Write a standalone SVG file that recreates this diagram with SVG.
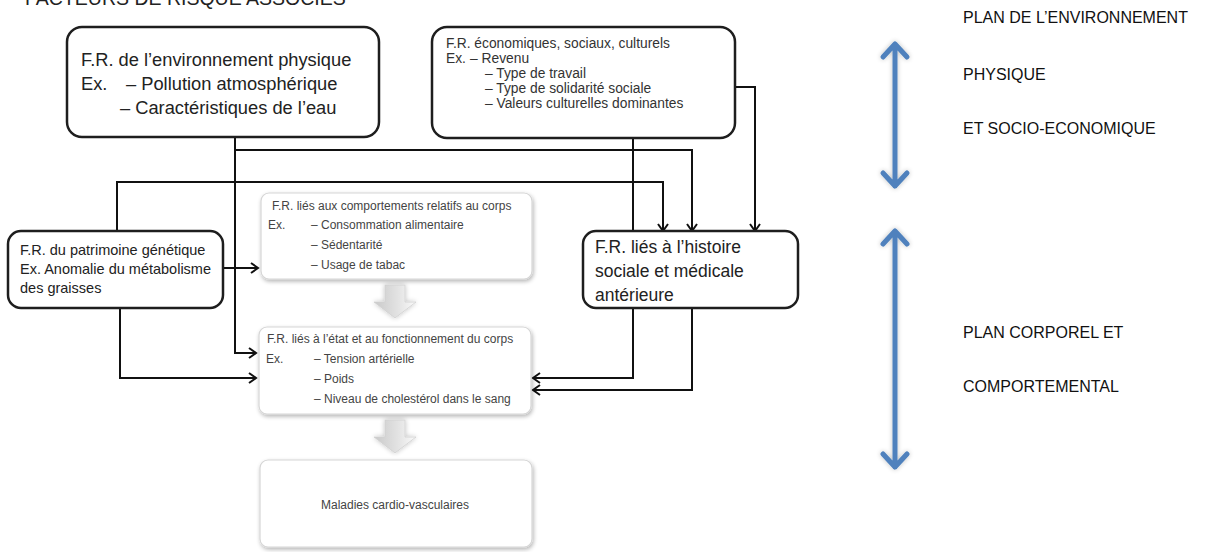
<svg xmlns="http://www.w3.org/2000/svg" width="1224" height="552" viewBox="0 0 1224 552">
<defs>
<style>
.t{font-family:"Liberation Sans",Arial,sans-serif;fill:#222}
.big{font-size:18.3px}
.hist{font-size:17.5px}
.mid{font-size:14.5px}
.eco{font-size:13.8px;fill:#333}
.sm{font-size:12px;fill:#444}
.lab{font-size:16px;fill:#111}
.box{fill:#fff;stroke:#1e1e1e;stroke-width:2.5}
.soft{fill:#fff;stroke:#d6d6d6;stroke-width:1.2}
.con{fill:none;stroke:#111;stroke-width:2}
.blue{fill:none;stroke:#4f81bd;stroke-width:5;stroke-linecap:round;stroke-linejoin:round}
</style>
<marker id="ah" markerWidth="12" markerHeight="12" refX="9" refY="6" orient="auto" markerUnits="userSpaceOnUse">
<path d="M2,1 L9,6 L2,11" fill="none" stroke="#111" stroke-width="2"/>
</marker>
<filter id="sh" x="-10%" y="-10%" width="125%" height="130%">
<feGaussianBlur in="SourceAlpha" stdDeviation="2"/>
<feOffset dx="1" dy="2" result="b"/>
<feComponentTransfer><feFuncA type="linear" slope="0.3"/></feComponentTransfer>
<feMerge><feMergeNode/><feMergeNode in="SourceGraphic"/></feMerge>
</filter>
<filter id="bsh" x="-50%" y="-10%" width="200%" height="120%">
<feGaussianBlur in="SourceAlpha" stdDeviation="2.5"/>
<feComponentTransfer><feFuncA type="linear" slope="0.25"/></feComponentTransfer>
<feMerge><feMergeNode/><feMergeNode in="SourceGraphic"/></feMerge>
</filter>
<linearGradient id="gg" x1="0" y1="0" x2="1" y2="0">
<stop offset="0" stop-color="#c9c9c9"/>
<stop offset="0.6" stop-color="#e4e4e4"/>
<stop offset="1" stop-color="#fafafa"/>
</linearGradient>
</defs>
<rect width="1224" height="552" fill="#fff"/>

<text class="t" x="25" y="5" style="font-size:19.5px;fill:#222">FACTEURS DE RISQUE ASSOCIÉS</text>

<g id="connectors">
<path class="con" d="M235,137 V353 H256" marker-end="url(#ah)"/>
<path class="con" d="M235,150 H692 V231" marker-end="url(#ah)"/>
<path class="con" d="M735,87 H755 V231" marker-end="url(#ah)"/>
<path class="con" d="M633,138 V378 H533" marker-end="url(#ah)"/>
<path class="con" d="M692,308 V390 H533" marker-end="url(#ah)"/>
<path class="con" d="M117,231 V182 H663 V231" marker-end="url(#ah)"/>
<path class="con" d="M223,268 H258" marker-end="url(#ah)"/>
<path class="con" d="M120,308 V378 H256" marker-end="url(#ah)"/>
</g>

<g id="node-env-physique">
<rect class="box" x="67" y="27" width="312" height="110" rx="15"/>
<text class="t big" x="81" y="66">F.R. de l’environnement physique</text>
<text class="t big" x="81" y="90">Ex.</text>
<text class="t big" x="126" y="90">– Pollution atmosphérique</text>
<text class="t big" x="120" y="114">– Caractéristiques de l’eau</text>
</g>

<g id="node-socio-eco">
<rect class="box" x="432" y="27" width="303" height="111" rx="15"/>
<text class="t eco" x="446" y="48">F.R. économiques, sociaux, culturels</text>
<text class="t eco" x="446" y="63">Ex.</text>
<text class="t eco" x="470" y="63">– Revenu</text>
<text class="t eco" x="485" y="78">– Type de travail</text>
<text class="t eco" x="485" y="93">– Type de solidarité sociale</text>
<text class="t eco" x="485" y="108">– Valeurs culturelles dominantes</text>
</g>

<g id="node-genetique">
<rect class="box" x="8" y="231" width="215" height="77" rx="13"/>
<text class="t mid" x="20" y="255">F.R. du patrimoine génétique</text>
<text class="t mid" x="20" y="274">Ex. Anomalie du métabolisme</text>
<text class="t mid" x="20" y="293">des graisses</text>
</g>

<g id="node-histoire">
<rect class="box" x="583" y="231" width="215" height="77" rx="13"/>
<text class="t hist" x="595" y="253">F.R. liés à l’histoire</text>
<text class="t hist" x="595" y="277">sociale et médicale</text>
<text class="t hist" x="595" y="301">antérieure</text>
</g>

<g id="node-comportements">
<rect class="soft" x="261" y="193" width="271" height="86" rx="8" filter="url(#sh)"/>
<text class="t sm" x="272" y="210">F.R. liés aux comportements relatifs au corps</text>
<text class="t sm" x="268" y="229">Ex.</text>
<text class="t sm" x="311" y="229">– Consommation alimentaire</text>
<text class="t sm" x="311" y="249">– Sédentarité</text>
<text class="t sm" x="311" y="269">– Usage de tabac</text>
</g>

<g id="node-etat-corps">
<rect class="soft" x="259" y="327" width="272" height="87" rx="8" filter="url(#sh)"/>
<text class="t sm" x="267" y="343">F.R. liés à l’état et au fonctionnement du corps</text>
<text class="t sm" x="266" y="363">Ex.</text>
<text class="t sm" x="314" y="363">– Tension artérielle</text>
<text class="t sm" x="314" y="383">– Poids</text>
<text class="t sm" x="314" y="403">–  Niveau de cholestérol dans le sang</text>
</g>

<g id="node-maladies">
<rect class="soft" x="260" y="460" width="272" height="87" rx="8" filter="url(#sh)"/>
<text class="t sm" x="395" y="509" text-anchor="middle">Maladies cardio-vasculaires</text>
</g>

<g id="block-arrows">
<path d="M385,285 H405 V302 H416 L395,318 L374,302 H385 Z" fill="url(#gg)" stroke="#d0d0d0" stroke-width="0.8" filter="url(#bsh)"/>
<path d="M385,420 H405 V437 H416 L395,453 L374,437 H385 Z" fill="url(#gg)" stroke="#d0d0d0" stroke-width="0.8" filter="url(#bsh)"/>
</g>

<g id="plan-env" filter="url(#bsh)">
<path class="blue" d="M895,44 V186 M883,57 L895,44 L907,57 M883,173 L895,186 L907,173"/>
</g>
<g id="plan-corp" filter="url(#bsh)">
<path class="blue" d="M895,231 V467 M883,244 L895,231 L907,244 M883,454 L895,467 L907,454"/>
</g>

<g id="labels">
<text class="t lab" x="963" y="23">PLAN DE L’ENVIRONNEMENT</text>
<text class="t lab" x="963" y="80">PHYSIQUE</text>
<text class="t lab" x="963" y="134">ET SOCIO-ECONOMIQUE</text>
<text class="t lab" x="963" y="338">PLAN CORPOREL ET</text>
<text class="t lab" x="963" y="392">COMPORTEMENTAL</text>
</g>
</svg>
